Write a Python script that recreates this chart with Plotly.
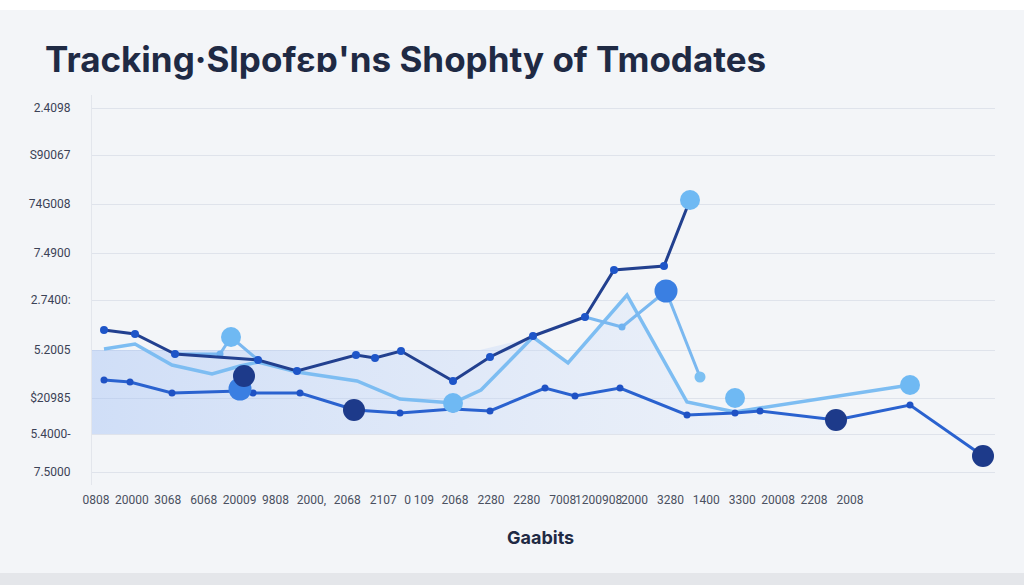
import plotly.graph_objects as go

# y tick labels as they appear on the chart
y_ticks = [37.7, 33.0, 28.1, 23.2, 18.5, 13.5, 8.7, 5.1, 1.3]
y_labels = ["2.4098", "S90067", "74G008", "7.4900", "2.7400:", "5.2005",
            "$20985", "5.4000-", "7.5000"]

x_labels = ["0808", "20000", "3068", "6068", "20009", "9808", "2000,", "2068",
            "2107", "0 109", "2068", "2280", "2280", "7008", "1200908", "2000",
            "3280", "1400", "3300", "20008", "2208", "2008"]
x_ticks = [96 + i * 35.9 for i in range(len(x_labels))]

# series
navy_x = [104, 135, 175, 258, 297, 356, 375, 401, 453, 490, 533, 585, 614, 664, 690]
navy_y = [15.5, 15.1, 13.1, 12.5, 11.4, 13.0, 12.7, 13.4, 10.4, 12.8, 14.9, 16.8, 21.5, 21.9, 28.5]

light_x = [104, 135, 172, 212, 240, 258, 297, 357, 400, 453, 481, 533, 568, 627, 687, 735, 760, 910]
light_y = [13.6, 14.1, 12.0, 11.1, 11.9, 12.3, 11.3, 10.4, 8.6, 8.2, 9.5, 14.8, 12.2, 19.0, 8.3, 7.3, 7.7, 10.0]

branch_x = [175, 220, 231, 258, None, 585, 622, 666, 700]
branch_y = [13.1, 13.1, 14.8, 12.5, None, 16.8, 15.8, 19.4, 10.8]

blue_x = [104, 130, 172, 240, 253, 300, 355, 400, 453, 490, 545, 575, 620, 687, 735, 760, 836, 910, 983]
blue_y = [10.5, 10.3, 9.2, 9.4, 9.2, 9.2, 7.5, 7.2, 7.6, 7.4, 9.7, 8.9, 9.7, 7.0, 7.2, 7.4, 6.5, 8.0, 2.9]

shade_x = [92, 480, 533, 568, 627, 687, 735, 830, 835, 92]
shade_y = [13.5, 13.5, 14.8, 12.2, 19.0, 8.3, 7.3, 7.0, 5.1, 5.1]

big_navy_x = [244, 354, 836, 983]
big_navy_y = [10.9, 7.5, 6.5, 2.9]
big_light_x = [231, 453, 735, 910, 690]
big_light_y = [14.8, 8.2, 8.7, 10.0, 28.5]
big_mid_x = [240, 666]
big_mid_y = [9.6, 19.4]
small_light_x = [700]
small_light_y = [10.8]

fig = go.Figure()

fig.add_trace(go.Scatter(
    x=shade_x, y=shade_y, mode="lines", fill="toself", line=dict(width=0),
    fillgradient=dict(type="horizontal", colorscale=[
        [0, "rgba(150,185,245,0.38)"], [0.5, "rgba(180,205,248,0.3)"],
        [1, "rgba(215,228,250,0.2)"]]),
    hoverinfo="skip"))

fig.add_trace(go.Scatter(x=light_x, y=light_y, mode="lines",
                         line=dict(color="#7dbdf2", width=3.5)))
fig.add_trace(go.Scatter(x=branch_x, y=branch_y, mode="lines+markers",
                         line=dict(color="#7ab8f0", width=3),
                         marker=dict(color="#6fb2f0", size=7)))
fig.add_trace(go.Scatter(x=blue_x, y=blue_y, mode="lines+markers",
                         line=dict(color="#2a62cf", width=3),
                         marker=dict(color="#1f52c4", size=7)))
fig.add_trace(go.Scatter(x=navy_x, y=navy_y, mode="lines+markers",
                         line=dict(color="#22408f", width=3),
                         marker=dict(color="#1e55c8", size=8)))

fig.add_trace(go.Scatter(x=big_light_x, y=big_light_y, mode="markers",
                         marker=dict(color="#6fb9f3", size=20)))
fig.add_trace(go.Scatter(x=big_mid_x, y=big_mid_y, mode="markers",
                         marker=dict(color="#3a7fe2", size=23)))
fig.add_trace(go.Scatter(x=big_navy_x, y=big_navy_y, mode="markers",
                         marker=dict(color="#1d3a8a", size=22)))
fig.add_trace(go.Scatter(x=small_light_x, y=small_light_y, mode="markers",
                         marker=dict(color="#7cc0f2", size=11)))

fig.update_layout(
    width=1024, height=585,
    margin=dict(l=92, r=29, t=95, b=100),
    paper_bgcolor="#f3f5f8", plot_bgcolor="#f3f5f8",
    showlegend=False,
    font=dict(family="Roboto", color="#3b4256"),
    title=dict(text="<b>Tracking·Slpofεɒ'ns Shophty of Tmodates</b>",
               x=45 / 1024, xanchor="left", y=1 - 60 / 585, yanchor="middle",
               font=dict(family="Inter", size=35, color="#1f2a44")),
    xaxis=dict(range=[92, 995], tickvals=x_ticks, ticktext=x_labels,
               tickangle=0, showgrid=False, zeroline=False, showline=False,
               tickfont=dict(size=12, color="#4a5060"), ticks="",
               ticklabelstandoff=6),
    yaxis=dict(range=[0, 39], tickvals=y_ticks, ticktext=y_labels,
               showgrid=True, gridcolor="#dfe3eb", gridwidth=1, zeroline=False,
               showline=True, linecolor="#e3e6ec",
               tickfont=dict(size=12, color="#3b4256"), ticks="",
               ticklabelstandoff=18),
    annotations=[dict(text="<b>Gaabits</b>", x=(540 - 92) / 903, xref="paper",
                      xanchor="center", y=-(537 - 485) / 390, yref="paper",
                      yanchor="middle", showarrow=False,
                      font=dict(family="Inter", size=18, color="#1f2a44"))],
)

# white band along the top edge and grey shadow along the bottom of the card
fig.add_shape(type="rect", xref="paper", yref="paper",
              x0=-0.2, x1=1.2, y0=1 + (95 - 10) / 390, y1=1.4,
              fillcolor="#ffffff", line=dict(width=0), layer="below")
fig.add_shape(type="rect", xref="paper", yref="paper",
              x0=-0.2, x1=1.2, y0=-(573 - 485) / 390, y1=-0.4,
              fillcolor="#e4e6ea", line=dict(width=0), layer="below")

fig.write_html("out.html", config={"displayModeBar": False},
               post_script="document.body.style.margin = '0';")
